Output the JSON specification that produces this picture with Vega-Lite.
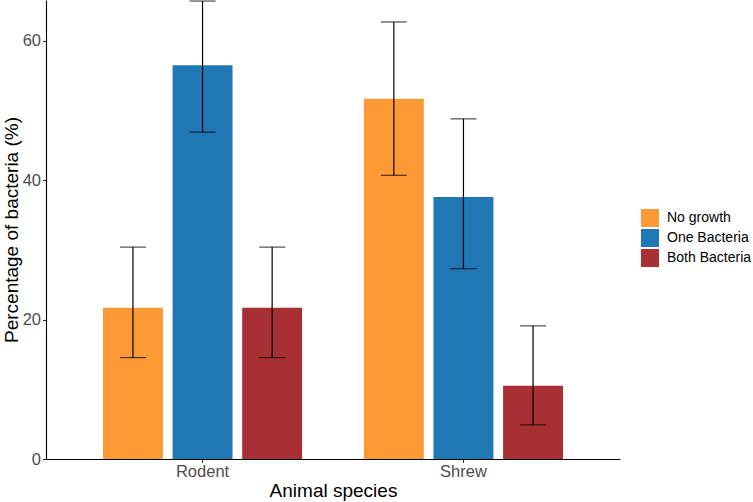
{
  "$schema": "https://vega.github.io/schema/vega-lite/v6.json",
  "autosize": "none",
  "width": 574,
  "height": 459,
  "padding": {"left": 46, "top": 0, "right": 133, "bottom": 43},
  "background": "white",
  "config": {
    "view": {"stroke": null},
    "font": "Liberation Sans",
    "axis": {
      "domainColor": "#000000",
      "domainWidth": 1.1,
      "tickColor": "#333333",
      "tickSize": 3.5,
      "tickWidth": 1.1,
      "labelColor": "#4D4D4D",
      "labelFont": "Liberation Sans",
      "labelFontSize": 16.5,
      "titleFont": "Liberation Sans",
      "titleFontSize": 19,
      "titleFontWeight": "normal",
      "titleColor": "#000000",
      "grid": false
    }
  },
  "data": {
    "values": [
      {"species": "Rodent", "group": "No growth", "pct": 21.7, "lo": 14.55, "hi": 30.4},
      {"species": "Rodent", "group": "One Bacteria", "pct": 56.5, "lo": 46.9, "hi": 65.7},
      {"species": "Rodent", "group": "Both Bacteria", "pct": 21.7, "lo": 14.55, "hi": 30.4},
      {"species": "Shrew", "group": "No growth", "pct": 51.7, "lo": 40.7, "hi": 62.7},
      {"species": "Shrew", "group": "One Bacteria", "pct": 37.6, "lo": 27.3, "hi": 48.8},
      {"species": "Shrew", "group": "Both Bacteria", "pct": 10.5, "lo": 4.9, "hi": 19.1}
    ]
  },
  "encoding": {
    "x": {
      "field": "species",
      "type": "nominal",
      "scale": {"paddingInner": 0.2, "paddingOuter": 0.2},
      "axis": {"title": "Animal species", "labelAngle": 0, "labelPadding": 1, "titlePadding": 1}
    },
    "xOffset": {
      "field": "group",
      "type": "nominal",
      "sort": ["No growth", "One Bacteria", "Both Bacteria"],
      "scale": {"paddingInner": 0.139, "paddingOuter": 0.069}
    }
  },
  "layer": [
    {
      "mark": {"type": "bar", "strokeWidth": 0},
      "encoding": {
        "y": {
          "field": "pct",
          "type": "quantitative",
          "scale": {"domain": [0, 65.85], "nice": false, "zero": true},
          "axis": {"title": "Percentage of bacteria (%)", "values": [0, 20, 40, 60], "labelPadding": 2, "titlePadding": 1}
        },
        "color": {
          "field": "group",
          "type": "nominal",
          "sort": ["No growth", "One Bacteria", "Both Bacteria"],
          "scale": {
            "domain": ["No growth", "One Bacteria", "Both Bacteria"],
            "range": ["#FE9A36", "#1F77B4", "#A83034"]
          },
          "legend": {
            "title": null,
            "orient": "none",
            "legendX": 595,
            "legendY": 209,
            "symbolType": "square",
            "symbolSize": 324,
            "symbolStrokeWidth": 0,
            "symbolOpacity": 1,
            "rowPadding": 2,
            "labelFontSize": 14,
            "labelColor": "#000000",
            "labelOffset": 8,
            "labelFont": "Liberation Sans"
          }
        }
      }
    },
    {
      "mark": {"type": "rule", "color": "#000000", "strokeWidth": 1.2},
      "encoding": {
        "y": {"field": "lo", "type": "quantitative"},
        "y2": {"field": "hi"}
      }
    },
    {
      "mark": {"type": "tick", "color": "#000000", "thickness": 1.2, "size": 26, "orient": "horizontal"},
      "encoding": {
        "y": {"field": "lo", "type": "quantitative"}
      }
    },
    {
      "mark": {"type": "tick", "color": "#000000", "thickness": 1.2, "size": 26, "orient": "horizontal"},
      "encoding": {
        "y": {"field": "hi", "type": "quantitative"}
      }
    }
  ]
}
